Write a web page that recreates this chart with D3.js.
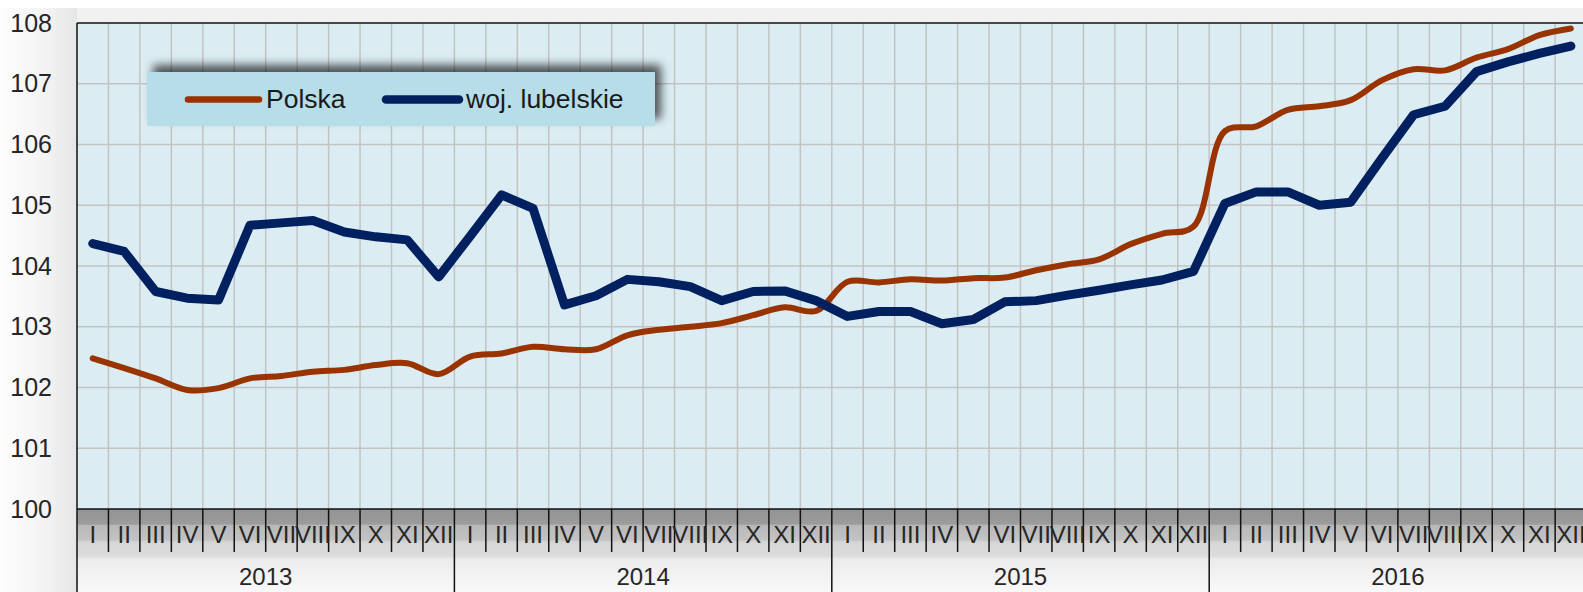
<!DOCTYPE html>
<html>
<head>
<meta charset="utf-8">
<script src="https://cdn.jsdelivr.net/npm/d3@7"></script>
<style>
  body { margin: 0; background: #fff; }
  svg { display: block; font-family: "Liberation Sans", Arial, sans-serif; }
</style>
</head>
<body>
<div id="chart-container"></div>
<script>
// month labels, years and the two series
const monthLabels = ["I","II","III","IV","V","VI","VII","VIII","IX","X","XI","XII"];
const years = ["2013","2014","2015","2016"];
const seriesNames = ["Polska", "woj. lubelskie"];
const yTicks = [100,101,102,103,104,105,106,107,108];

const polska = [
  102.48,102.32,102.15,101.96,101.99,102.15,102.19,102.26,102.29,102.37,102.40,102.22,
  102.51,102.56,102.67,102.63,102.63,102.86,102.95,103.00,103.06,103.19,103.32,103.26,
  103.74,103.73,103.78,103.76,103.80,103.81,103.93,104.03,104.11,104.36,104.53,104.65,
  106.22,106.30,106.57,106.63,106.73,107.06,107.24,107.22,107.43,107.57,107.80,107.91
];
const lubelskie = [
  104.37,104.24,103.58,103.47,103.44,104.67,104.71,104.75,104.56,104.48,104.43,103.82,
  104.49,105.17,104.95,103.36,103.51,103.78,103.74,103.66,103.43,103.58,103.59,103.43,
  103.17,103.25,103.25,103.05,103.12,103.41,103.43,103.52,103.60,103.69,103.77,103.91,
  105.03,105.22,105.22,105.00,105.05,105.78,106.49,106.63,107.20,107.36,107.50,107.62
];

const W = 1583, H = 592;
const margin = { left: 77, top: 23, bottom: 509 };
const monthW = 31.45;
const plotRight = margin.left + 48 * monthW;

const idx = d3.range(48);
const x = d3.scaleBand().domain(idx).range([margin.left, plotRight]);
const y = d3.scaleLinear().domain([100, 108]).range([margin.bottom, margin.top]);

const svg = d3.select("#chart-container")
  .append("svg")
    .attr("width", W)
    .attr("height", H);

const defs = svg.append("defs");

const leftGrad = defs.append("linearGradient").attr("id", "leftGrad")
  .attr("gradientUnits", "userSpaceOnUse")
  .attr("x1", 0).attr("x2", margin.left).attr("y1", 0).attr("y2", 0);
leftGrad.append("stop").attr("offset", 0).attr("stop-color", "#fdfdfd");
leftGrad.append("stop").attr("offset", 0.6).attr("stop-color", "#f3f3f3");
leftGrad.append("stop").attr("offset", 1).attr("stop-color", "#e6e6e6");

const axisGrad = defs.append("linearGradient").attr("id", "axisGrad")
  .attr("gradientUnits", "userSpaceOnUse")
  .attr("x1", 0).attr("x2", 0).attr("y1", margin.bottom).attr("y2", H);
[[0, "#939393"], [0.18, "#9c9c9c"], [0.2, "#b9b9b9"], [0.37, "#c3c3c3"], [0.4, "#d6d6d6"],
 [0.57, "#dcdcdc"], [0.6, "#ebebeb"], [0.75, "#f1f1f1"], [1, "#f8f8f8"]]
  .forEach(s => axisGrad.append("stop").attr("offset", s[0]).attr("stop-color", s[1]));

const shadow = defs.append("filter").attr("id", "legShadow")
  .attr("x", "-10%").attr("y", "-60%").attr("width", "120%").attr("height", "220%");
shadow.append("feDropShadow")
  .attr("dx", 6).attr("dy", -7)
  .attr("stdDeviation", 5)
  .attr("flood-color", "#000")
  .attr("flood-opacity", 0.65);

const clip = defs.append("clipPath").attr("id", "plotClip");
clip.append("rect").attr("x", margin.left).attr("y", margin.top)
  .attr("width", plotRight - margin.left).attr("height", margin.bottom - margin.top);

// background shading
svg.append("rect").attr("x", 0).attr("y", 8).attr("width", margin.left).attr("height", H - 8)
  .attr("fill", "url(#leftGrad)");
svg.append("rect").attr("x", margin.left).attr("y", 8).attr("width", W - margin.left).attr("height", margin.top - 8)
  .attr("fill", "#f1f1f1");
svg.append("rect").attr("x", margin.left).attr("y", margin.bottom).attr("width", W - margin.left).attr("height", H - margin.bottom)
  .attr("fill", "url(#axisGrad)");

// plot area
svg.append("rect")
  .attr("x", margin.left).attr("y", margin.top)
  .attr("width", plotRight - margin.left).attr("height", margin.bottom - margin.top)
  .attr("fill", "#dbedf3");

// vertical gridlines (month boundaries)
svg.selectAll("xGrid")
  .data(idx.slice(1))
  .join("line")
  .attr("x1", d => x(d)).attr("x2", d => x(d))
  .attr("y1", margin.top).attr("y2", margin.bottom)
  .attr("stroke", "#c3c3c3")
  .attr("stroke-width", 1.5);

// horizontal gridlines
svg.selectAll("yGrid")
  .data(yTicks.slice(1, -1))
  .join("line")
  .attr("x1", margin.left).attr("x2", plotRight)
  .attr("y1", d => y(d)).attr("y2", d => y(d))
  .attr("stroke", "#c3c3c3")
  .attr("stroke-width", 1.5);

// plot border
svg.append("line").attr("x1", margin.left).attr("x2", plotRight).attr("y1", margin.top).attr("y2", margin.top)
  .attr("stroke", "#111").attr("stroke-width", 1.5);
svg.append("line").attr("x1", margin.left).attr("x2", plotRight).attr("y1", margin.bottom).attr("y2", margin.bottom)
  .attr("stroke", "#111").attr("stroke-width", 1.5);
svg.append("line").attr("x1", margin.left).attr("x2", margin.left).attr("y1", margin.top).attr("y2", H)
  .attr("stroke", "#111").attr("stroke-width", 1.5);

// month tick lines and year separators
svg.selectAll("mTick")
  .data(idx.slice(1))
  .join("line")
  .attr("x1", d => x(d)).attr("x2", d => x(d))
  .attr("y1", margin.bottom)
  .attr("y2", d => d % 12 === 0 ? H : 552)
  .attr("stroke", "#111")
  .attr("stroke-width", 1.5);

// y axis labels
svg.append("g")
  .attr("transform", `translate(52,0)`)
  .call(d3.axisLeft(y).tickValues(yTicks).tickSize(0).tickPadding(0).tickFormat(d3.format("d")))
  .call(g => g.select(".domain").remove())
  .selectAll(".tick text")
  .style("font-size", "25px")
  .style("font-family", "Liberation Sans, Arial, sans-serif")
  .attr("fill", "#262626");

// month labels
svg.append("g")
  .attr("transform", `translate(0,${margin.bottom})`)
  .call(d3.axisBottom(x).tickSize(0).tickPadding(0).tickFormat(d => monthLabels[d % 12]))
  .call(g => g.select(".domain").remove())
  .selectAll(".tick text")
  .attr("dy", null)
  .attr("y", 34)
  .style("font-size", "24px")
  .style("font-family", "Liberation Sans, Arial, sans-serif")
  .attr("fill", "#262626");

// year labels
const yearX = d3.scaleBand().domain(years).range([margin.left, plotRight]);
svg.selectAll("yearLabel")
  .data(years)
  .join("text")
  .attr("x", d => yearX(d) + yearX.bandwidth() / 2)
  .attr("y", 585)
  .attr("text-anchor", "middle")
  .style("font-size", "24px")
  .attr("fill", "#262626")
  .text(d => d);

// lines
const plot = svg.append("g").attr("clip-path", "url(#plotClip)");

const linePolska = d3.line()
  .x((d, i) => x(i) + x.bandwidth() / 2)
  .y(d => y(d))
  .curve(d3.curveCatmullRom.alpha(0.5));

const lineLub = d3.line()
  .x((d, i) => x(i) + x.bandwidth() / 2)
  .y(d => y(d));

plot.append("path")
  .datum(polska)
  .attr("fill", "none")
  .attr("stroke", "#993300")
  .attr("stroke-width", 6)
  .attr("stroke-linejoin", "round")
  .attr("stroke-linecap", "round")
  .attr("d", linePolska);

plot.append("path")
  .datum(lubelskie)
  .attr("fill", "none")
  .attr("stroke", "#002060")
  .attr("stroke-width", 9)
  .attr("stroke-linejoin", "round")
  .attr("stroke-linecap", "round")
  .attr("d", lineLub);

// legend
const legend = svg.append("g");
legend.append("rect")
  .attr("x", 147).attr("y", 72)
  .attr("width", 508).attr("height", 54)
  .attr("fill", "#b7dde8")
  .attr("filter", "url(#legShadow)");

const legendItems = [
  { name: seriesNames[0], color: "#993300", w: 6.5, x1: 188, x2: 259, tx: 266 },
  { name: seriesNames[1], color: "#002060", w: 8.5, x1: 386, x2: 459, tx: 466 }
];
legend.selectAll("legLine")
  .data(legendItems)
  .join("line")
  .attr("x1", d => d.x1).attr("x2", d => d.x2)
  .attr("y1", 99.5).attr("y2", 99.5)
  .attr("stroke", d => d.color)
  .attr("stroke-width", d => d.w)
  .attr("stroke-linecap", "round");
legend.selectAll("legText")
  .data(legendItems)
  .join("text")
  .attr("x", d => d.tx)
  .attr("y", 107.5)
  .style("font-size", "26.5px")
  .attr("fill", "#1a1a1a")
  .text(d => d.name);
</script>
</body>
</html>
